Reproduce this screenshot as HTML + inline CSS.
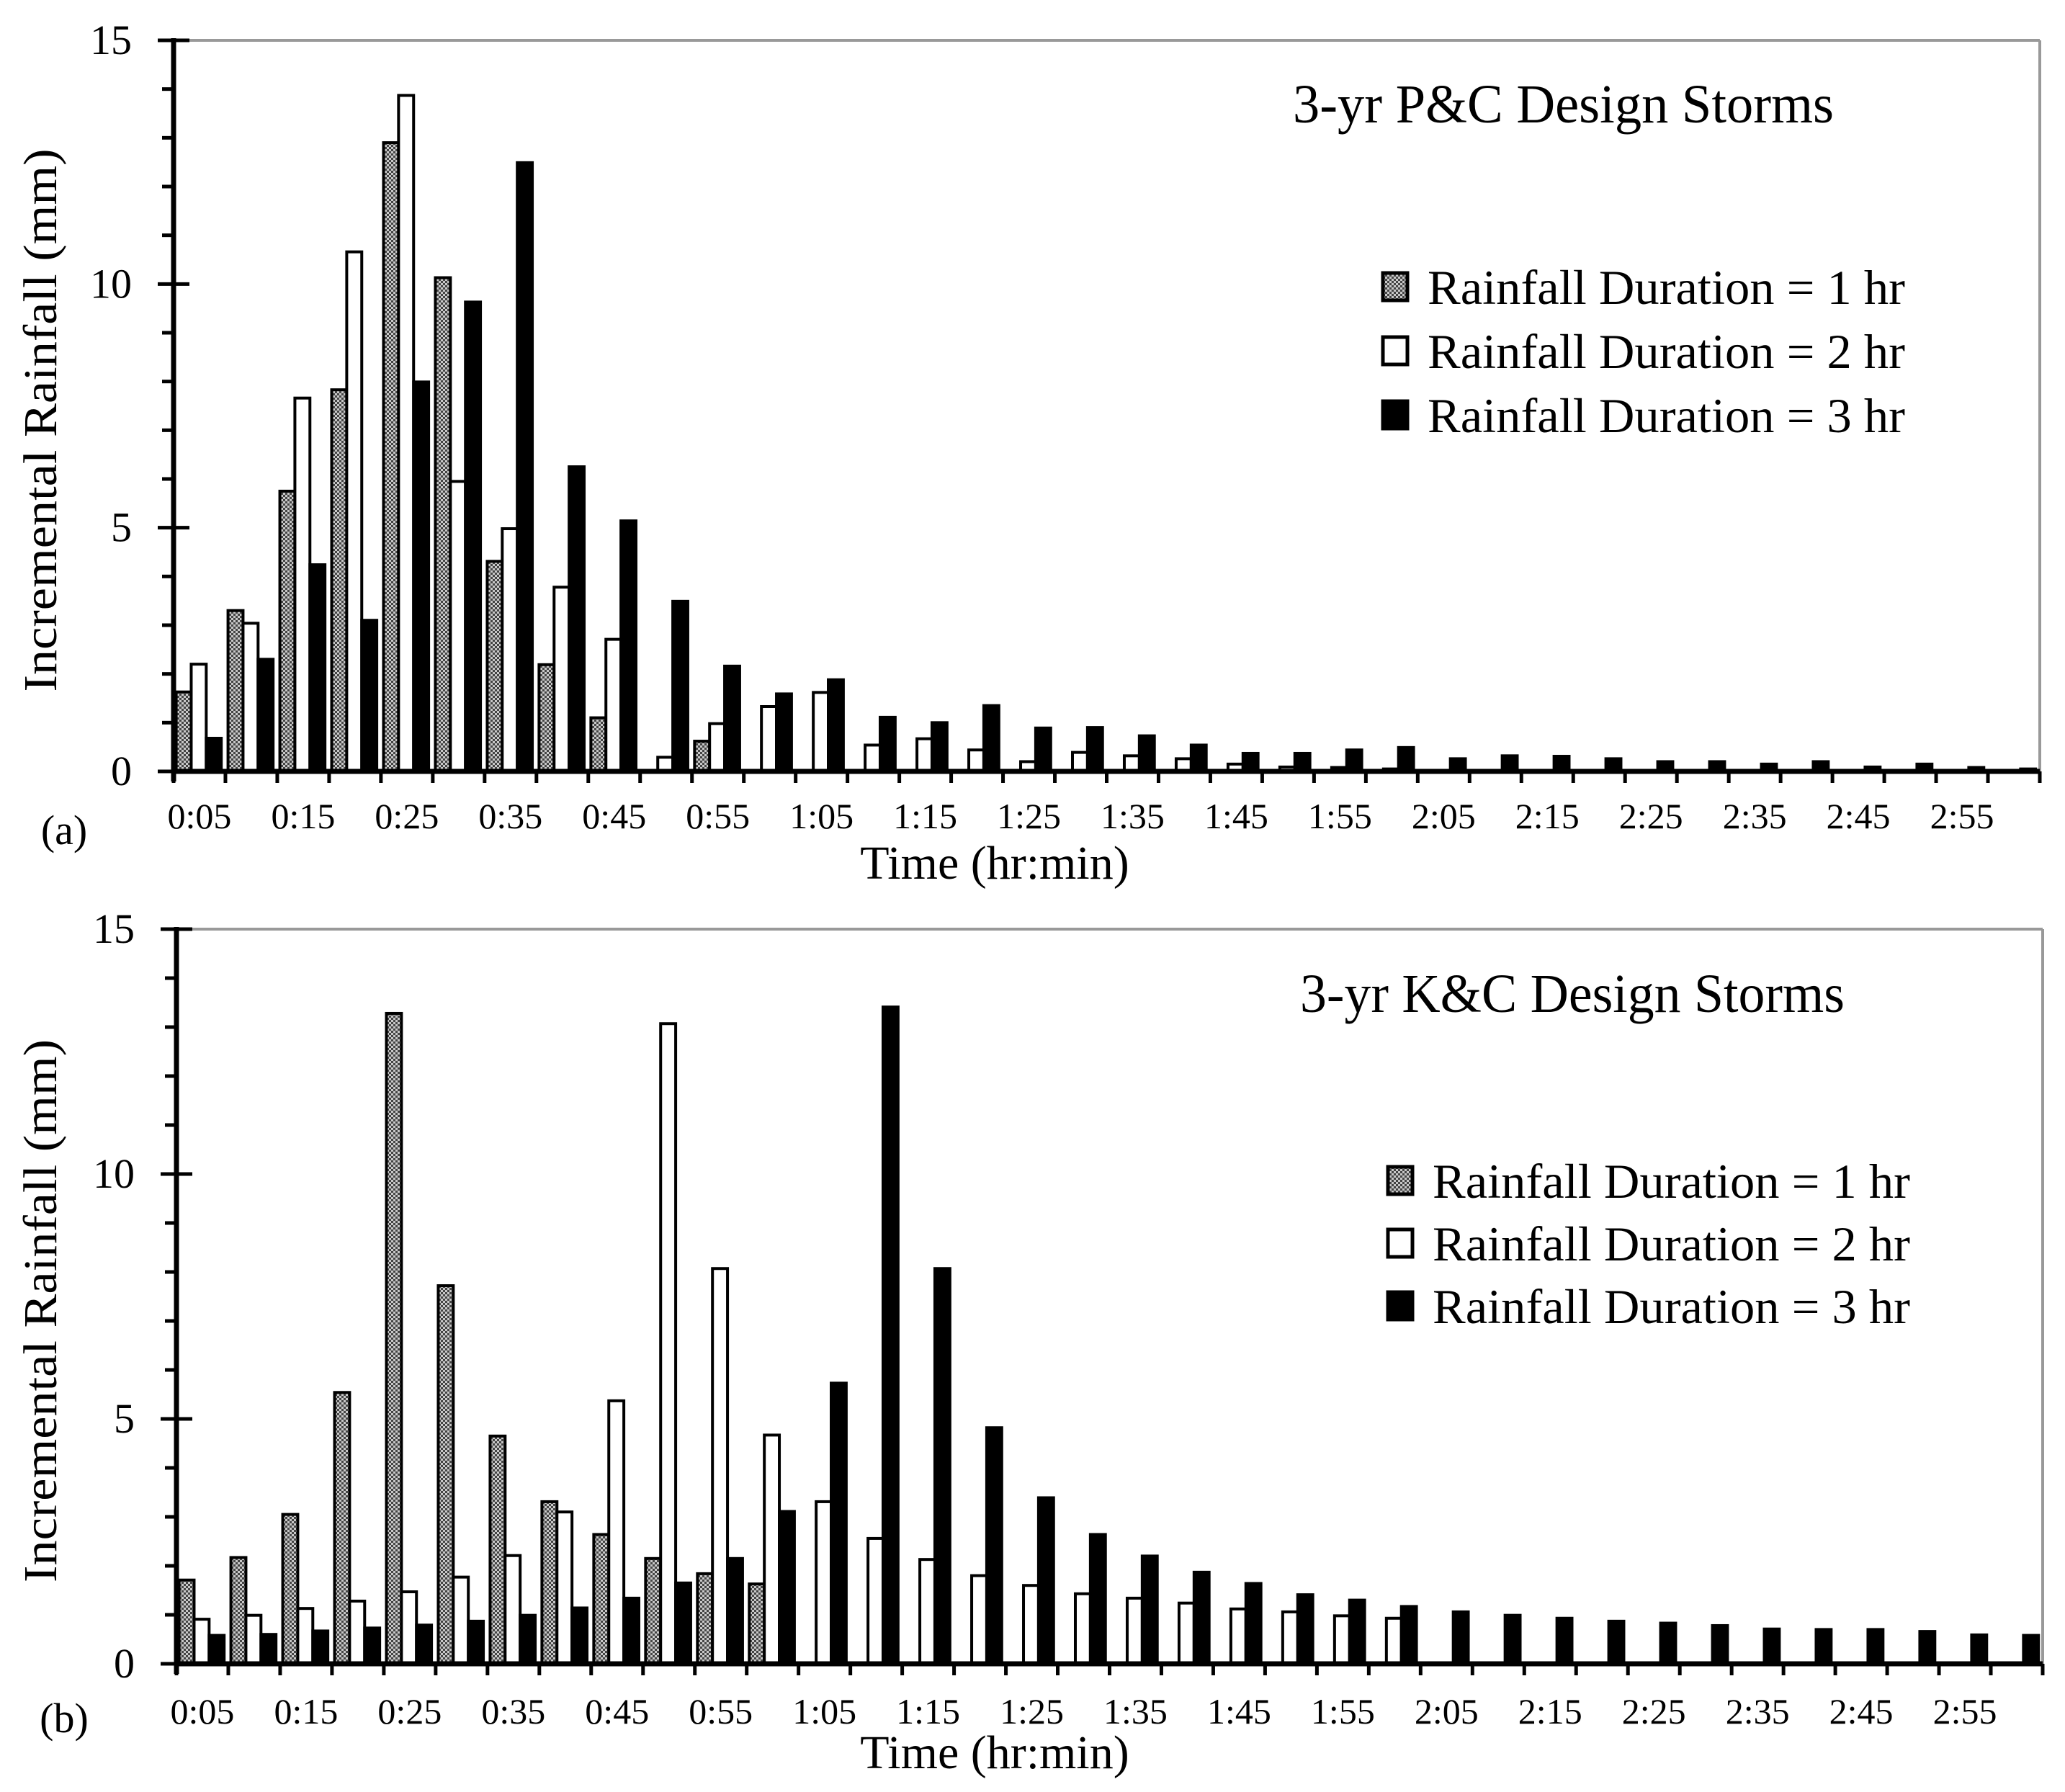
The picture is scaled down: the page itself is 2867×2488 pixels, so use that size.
<!DOCTYPE html>
<html><head><meta charset="utf-8">
<style>
html,body{margin:0;padding:0;background:#fff;}
svg{display:block;font-family:"Liberation Serif","Times New Roman",serif;}
</style></head>
<body>
<svg id="fig" width="2867" height="2488" viewBox="0 0 2867 2488" xmlns="http://www.w3.org/2000/svg">
<defs>
<pattern id="dots" width="6" height="6" patternUnits="userSpaceOnUse">
<rect width="6" height="6" fill="#c8c8c8"/>
<rect width="3" height="3" fill="#444"/>
<rect x="3" y="3" width="3" height="3" fill="#444"/>
</pattern>
</defs>
<g id="chartA"></g>
<g id="chartB"></g>
</svg>
<script>
const categories = ["0:05","0:10","0:15","0:20","0:25","0:30","0:35","0:40","0:45","0:50","0:55","1:00","1:05","1:10","1:15","1:20","1:25","1:30","1:35","1:40","1:45","1:50","1:55","2:00","2:05","2:10","2:15","2:20","2:25","2:30","2:35","2:40","2:45","2:50","2:55","3:00"];
const yTicks = [0,5,10,15];
const seriesNames = ["Rainfall Duration = 1 hr","Rainfall Duration = 2 hr","Rainfall Duration = 3 hr"];
const pc1hr = [1.63,3.3,5.75,7.83,12.9,10.13,4.31,2.19,1.1,0,0.62,0];
const pc2hr = [2.2,3.04,7.66,10.66,13.87,5.95,4.98,3.78,2.71,0.29,0.98,1.33,1.62,0.54,0.67,0.44,0.2,0.39,0.32,0.26,0.15,0.09,0.08,0.05];
const pc3hr = [0.68,2.3,4.24,3.1,7.99,9.63,12.49,6.25,5.14,3.49,2.16,1.59,1.88,1.11,1.0,1.35,0.89,0.9,0.73,0.54,0.37,0.37,0.44,0.49,0.26,0.32,0.31,0.26,0.2,0.2,0.15,0.2,0.09,0.15,0.08,0.05];
const kc1hr = [1.71,2.17,3.05,5.54,13.28,7.72,4.65,3.31,2.64,2.15,1.84,1.63];
const kc2hr = [0.91,0.99,1.13,1.28,1.47,1.77,2.21,3.1,5.37,13.07,8.07,4.67,3.31,2.56,2.13,1.8,1.6,1.43,1.34,1.24,1.12,1.06,0.98,0.93];
const kc3hr = [0.58,0.6,0.67,0.73,0.79,0.87,0.99,1.14,1.34,1.65,2.15,3.11,5.73,13.41,8.07,4.82,3.39,2.64,2.2,1.87,1.64,1.41,1.3,1.17,1.06,0.99,0.93,0.87,0.83,0.78,0.71,0.7,0.7,0.66,0.59,0.58];

const NS="http://www.w3.org/2000/svg";
function mk(parent,tag,attrs,text){
  const e=document.createElementNS(NS,tag);
  for(const k in attrs) e.setAttribute(k,attrs[k]);
  if(text!==undefined) e.textContent=text;
  parent.appendChild(e); return e;
}
const fills=["url(#dots)","#fff","#000"];

function drawChart(g, cfg, series){
  const L=cfg.left, R=cfg.right, T=cfg.top, B=cfg.bottom;
  const n=categories.length, cw=(R-L)/n;
  const y=v=>B-(v/15)*(B-T);
  const x=i=>L+i*cw;
  // frame
  let e=mk(g,"line",{x1:L,y1:T,x2:R,y2:T,stroke:"#999","stroke-width":4});
   
  e=mk(g,"line",{x1:R,y1:T,x2:R,y2:B,stroke:"#999","stroke-width":4});
   
  // bars
  const off=0.05*cw, bw=0.29*cw;
  series.forEach((vals,s)=>{
    vals.forEach((v,i)=>{
      if(v<=0) return;
      const r=mk(g,"rect",{x:x(i)+off+s*bw,y:y(v),width:bw,height:B-y(v),fill:fills[s],stroke:"#000","stroke-width":4});
      
      
    });
  });
  // y axis
  e=mk(g,"line",{x1:L,y1:T-3,x2:L,y2:B+14,stroke:"#000","stroke-width":7});
   
  for(let v=0;v<=15;v++){
    const major=v%5===0;
    const t=mk(g,"line",{x1:L-(major?22:16),y1:y(v),x2:major?L+22:L,y2:y(v),stroke:"#000","stroke-width":5});
     
  }
  yTicks.forEach(v=>{
    const t=mk(g,"text",{x:cfg.left-58,y:y(v)+19,"text-anchor":"end","font-size":58},String(v));
     
  });
  // x axis
  e=mk(g,"line",{x1:L,y1:B,x2:R,y2:B,stroke:"#000","stroke-width":7});
   
  for(let i=0;i<=n;i++){
    const t=mk(g,"line",{x1:x(i),y1:B,x2:x(i),y2:B+16,stroke:"#000","stroke-width":5});
     
  }
  categories.forEach((c,i)=>{
    if(i%2) return;
    const t=mk(g,"text",{x:x(i)+cw/2,y:cfg.xlabY,"text-anchor":"middle","font-size":50},c);
     
  });
  e=mk(g,"text",{x:1381,y:cfg.xtitleY,"text-anchor":"middle","font-size":66},"Time (hr:min)");
   
  const cy=(T+B)/2+20;
  e=mk(g,"text",{x:0,y:0,"text-anchor":"middle","font-size":66,textLength:754,lengthAdjust:"spacingAndGlyphs",transform:"translate(78,"+cy+") rotate(-90)"},"Incremental Rainfall (mm)");
   
  e=mk(g,"text",{x:89,y:cfg.panelY,"text-anchor":"middle","font-size":58},cfg.panel);
   
  e=mk(g,"text",{x:cfg.titleX,y:cfg.titleY,"font-size":76,textLength:cfg.titleW,lengthAdjust:"spacingAndGlyphs"},cfg.title);
   
  // legend
  seriesNames.forEach((nm,s)=>{
    const ly=cfg.legY+s*cfg.legStep;
    const m=mk(g,"rect",{x:cfg.legX,y:ly-20,width:34,height:38,fill:fills[s],stroke:"#000","stroke-width":5});
     
    const t=mk(g,"text",{x:cfg.legX+62,y:ly+23,"font-size":68,textLength:663,lengthAdjust:"spacingAndGlyphs"},nm);
     
  });
}

drawChart(document.getElementById('chartA'),
  {left:241,right:2832,top:56,bottom:1071,xlabY:1150,xtitleY:1220,panel:"(a)",panelY:1172,
   title:"3-yr P&C Design Storms",titleX:1795,titleY:170,titleW:751,legX:1920,legY:399,legStep:89},
  [pc1hr,pc2hr,pc3hr]);
drawChart(document.getElementById('chartB'),
  {left:245,right:2836,top:1290,bottom:2310,xlabY:2393,xtitleY:2455,panel:"(b)",panelY:2405,
   title:"3-yr K&C Design Storms",titleX:1805,titleY:1405,titleW:756,legX:1927,legY:1640,legStep:87},
  [kc1hr,kc2hr,kc3hr]);
</script>
</body></html>
